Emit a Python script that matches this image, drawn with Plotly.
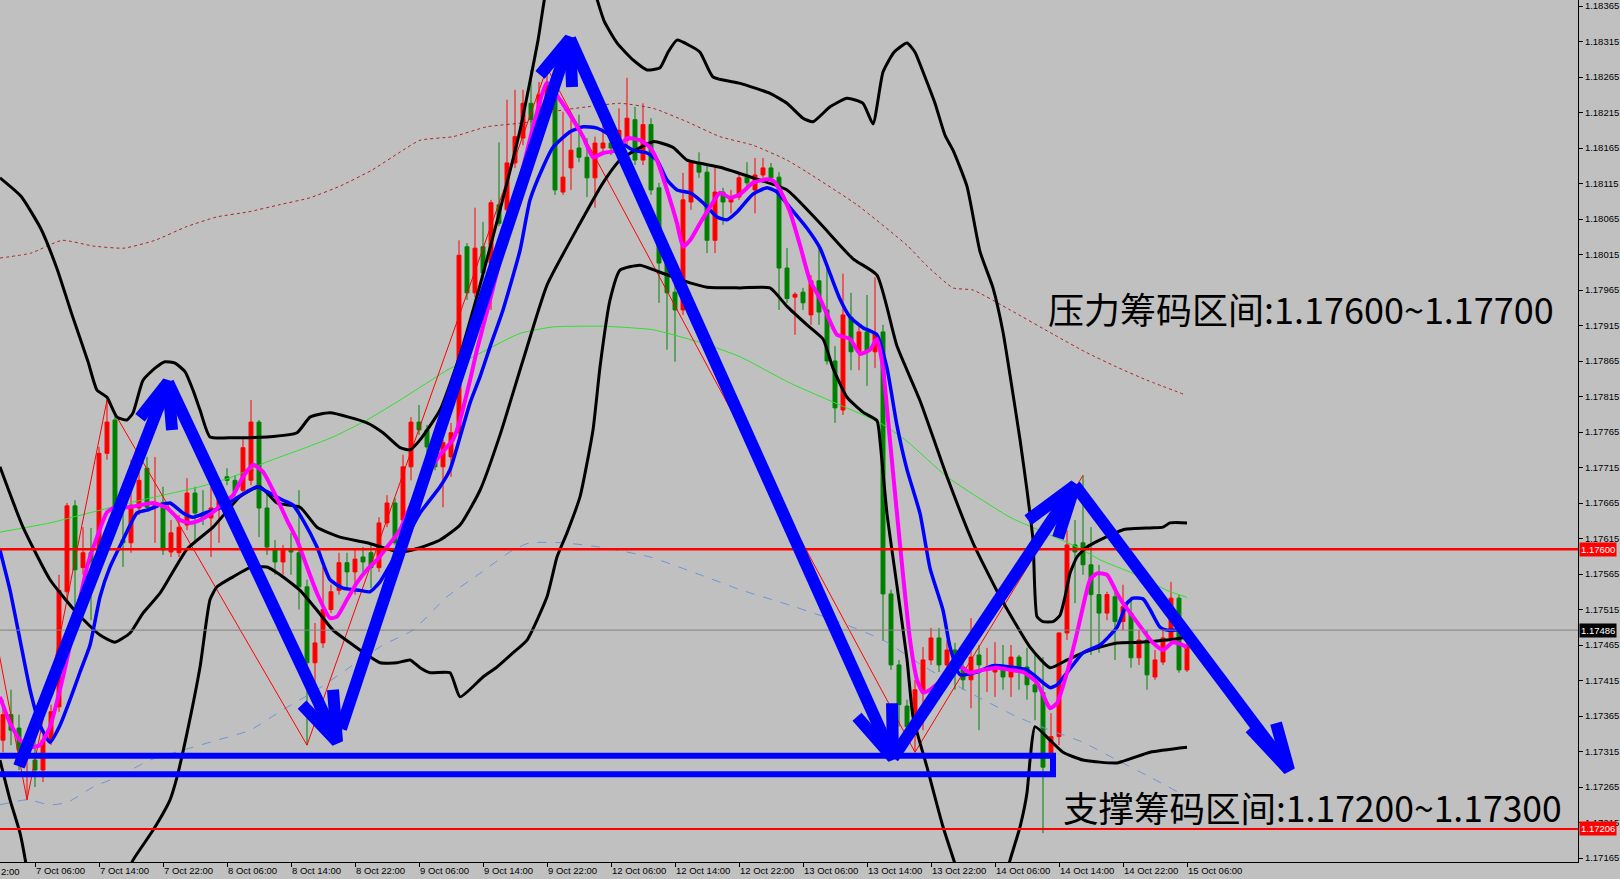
import plotly.graph_objects as go

# ---------------- DATA (EURUSD H1, bar index 0 = 7 Oct 02:00) ----------------
opens = [1.17331,1.17367,1.17348,1.17307,1.17303,1.17289,1.17331,1.17378,1.17540,1.17661,
         1.17574,1.17595,1.17589,1.17735,1.17782,1.17613,1.17609,1.17658,1.17714,1.17659,
         1.17666,1.17596,1.17595,1.17634,1.17679,1.17651,1.17644,1.17658,1.17702,1.17697,
         1.17683,1.17697,1.17779,1.17658,1.17599,1.17582,1.17601,1.17595,1.17547,1.17440,
         1.17468,1.17515,1.17542,1.17581,1.17568,1.17589,1.17595,1.17574,1.17637,1.17665,
         1.17641,1.17716,1.17779,1.17768,1.17744,1.17716,1.17730,1.17764,1.18026,1.17961,
         1.18026,1.18003,1.18085,1.18078,1.18144,1.18179,1.18228,1.18207,1.18233,1.18254,
         1.18103,1.18137,1.18165,1.18152,1.18123,1.18165,1.18172,1.18165,1.18176,1.18205,
         1.18148,1.18198,1.18109,1.18003,1.17962,1.17937,1.18089,1.18144,1.18131,1.18035,
         1.18103,1.18089,1.18096,1.18124,1.18106,1.18127,1.18137,1.18124,1.17996,1.17955,
         1.17962,1.17930,1.17978,1.17937,1.17865,1.17796,1.17927,1.17878,1.17906,1.17878,
         1.17906,1.17537,1.17437,1.17379,1.17350,1.17398,1.17444,1.17475,1.17437,1.17458,
         1.17434,1.17416,1.17451,1.17430,1.17427,1.17434,1.17420,1.17448,1.17434,1.17409,
         1.17398,1.17313,1.17336,1.17482,1.17606,1.17609,1.17578,1.17536,1.17510,1.17533,
         1.17498,1.17510,1.17447,1.17472,1.17420,1.17441,1.17472,1.17531,1.17430]
highs = [1.17388,1.17402,1.17367,1.17338,1.17331,1.17338,1.17381,1.17564,1.17665,1.17669,
         1.17631,1.17630,1.17744,1.17810,1.17789,1.17693,1.17726,1.17711,1.17730,1.17730,
         1.17688,1.17641,1.17648,1.17700,1.17688,1.17683,1.17688,1.17686,1.17714,1.17704,
         1.17758,1.17810,1.17782,1.17683,1.17613,1.17606,1.17623,1.17683,1.17557,1.17496,
         1.17575,1.17550,1.17595,1.17595,1.17601,1.17603,1.17606,1.17645,1.17676,1.17672,
         1.17733,1.17786,1.17803,1.17775,1.17754,1.17754,1.17778,1.18035,1.18031,1.18081,
         1.18061,1.18092,1.18173,1.18233,1.18247,1.18247,1.18275,1.18258,1.18278,1.18264,
         1.18216,1.18205,1.18212,1.18179,1.18181,1.18209,1.18183,1.18221,1.18264,1.18223,
         1.18228,1.18207,1.18116,1.18014,1.17972,1.18130,1.18148,1.18159,1.18141,1.18138,
         1.18109,1.18106,1.18131,1.18145,1.18151,1.18151,1.18144,1.18131,1.18024,1.17962,
         1.17968,1.17986,1.18024,1.18003,1.17886,1.17988,1.17961,1.17916,1.17958,1.17983,
         1.17916,1.17543,1.17444,1.17388,1.17416,1.17462,1.17489,1.17489,1.17472,1.17468,
         1.17444,1.17503,1.17465,1.17461,1.17469,1.17465,1.17465,1.17451,1.17461,1.17451,
         1.17448,1.17369,1.17483,1.17627,1.17641,1.17704,1.17631,1.17578,1.17540,1.17547,
         1.17550,1.17533,1.17486,1.17486,1.17458,1.17486,1.17554,1.17536,1.17486]
lows = [1.17314,1.17324,1.17289,1.17247,1.17265,1.17272,1.17324,1.17371,1.17529,1.17500,
        1.17564,1.17500,1.17582,1.17726,1.17641,1.17575,1.17595,1.17648,1.17655,1.17609,
        1.17592,1.17589,1.17589,1.17627,1.17609,1.17634,1.17589,1.17609,1.17690,1.17674,
        1.17676,1.17690,1.17617,1.17592,1.17564,1.17564,1.17564,1.17515,1.17324,1.17359,
        1.17461,1.17510,1.17536,1.17542,1.17536,1.17568,1.17545,1.17568,1.17631,1.17606,
        1.17631,1.17697,1.17761,1.17726,1.17711,1.17659,1.17702,1.17758,1.17951,1.17955,
        1.17979,1.17937,1.18055,1.18071,1.18137,1.18169,1.18172,1.18198,1.18219,1.18099,
        1.18099,1.18106,1.18145,1.18096,1.18081,1.18155,1.18155,1.18155,1.18169,1.18141,
        1.18141,1.18099,1.17947,1.17881,1.17864,1.17930,1.18078,1.18123,1.18017,1.18017,
        1.18057,1.18073,1.18092,1.18109,1.18073,1.18123,1.18120,1.17937,1.17947,1.17902,
        1.17937,1.17916,1.17916,1.17860,1.17778,1.17789,1.17852,1.17852,1.17830,1.17855,
        1.17471,1.17430,1.17350,1.17331,1.17314,1.17345,1.17437,1.17427,1.17416,1.17402,
        1.17402,1.17376,1.17345,1.17399,1.17392,1.17402,1.17392,1.17402,1.17388,1.17359,
        1.17200,1.17289,1.17324,1.17472,1.17524,1.17564,1.17451,1.17454,1.17500,1.17444,
        1.17486,1.17433,1.17437,1.17402,1.17416,1.17437,1.17465,1.17426,1.17427]
closes = [1.17367,1.17345,1.17317,1.17324,1.17289,1.17331,1.17371,1.17542,1.17661,1.17571,
          1.17595,1.17582,1.17735,1.17779,1.17645,1.17609,1.17662,1.17697,1.17659,1.17666,
          1.17599,1.17623,1.17631,1.17679,1.17651,1.17644,1.17658,1.17679,1.17697,1.17681,
          1.17743,1.17779,1.17658,1.17603,1.17582,1.17599,1.17596,1.17547,1.17440,1.17468,
          1.17515,1.17540,1.17581,1.17568,1.17586,1.17582,1.17574,1.17637,1.17665,1.17609,
          1.17716,1.17779,1.17768,1.17744,1.17716,1.17750,1.17764,1.18014,1.17961,1.18024,
          1.17989,1.18088,1.18059,1.18144,1.18181,1.18228,1.18205,1.18240,1.18254,1.18106,
          1.18124,1.18162,1.18152,1.18123,1.18172,1.18172,1.18165,1.18190,1.18207,1.18148,
          1.18198,1.18106,1.18003,1.17961,1.17937,1.18092,1.18145,1.18131,1.18035,1.18103,
          1.18089,1.18096,1.18123,1.18116,1.18127,1.18137,1.18123,1.17996,1.17953,1.17959,
          1.17947,1.17978,1.17934,1.17865,1.17799,1.17930,1.17878,1.17906,1.17878,1.17903,
          1.17537,1.17437,1.17381,1.17350,1.17402,1.17444,1.17475,1.17437,1.17458,1.17434,
          1.17416,1.17448,1.17437,1.17434,1.17436,1.17420,1.17448,1.17434,1.17409,1.17399,
          1.17293,1.17336,1.17482,1.17606,1.17596,1.17578,1.17536,1.17510,1.17536,1.17498,
          1.17519,1.17447,1.17472,1.17423,1.17444,1.17475,1.17531,1.17430,1.17465]
bar_index = list(range(len(opens)))

x_tick_labels = ["7 Oct 06:00", "7 Oct 14:00", "7 Oct 22:00", "8 Oct 06:00", "8 Oct 14:00",
                 "8 Oct 22:00", "9 Oct 06:00", "9 Oct 14:00", "9 Oct 22:00", "12 Oct 06:00",
                 "12 Oct 14:00", "12 Oct 22:00", "13 Oct 06:00", "13 Oct 14:00", "13 Oct 22:00",
                 "14 Oct 06:00", "14 Oct 14:00", "14 Oct 22:00", "15 Oct 06:00"]
previous_tick_fragment = "2:00"   # visible tail of "6 Oct 22:00" at the left edge
first_tick_bar = 4
bars_per_tick = 8
y_tick_labels = ["1.17165", "1.17215", "1.17265", "1.17315", "1.17365", "1.17415", "1.17465",
                 "1.17515", "1.17565", "1.17615", "1.17665", "1.17715", "1.17765", "1.17815",
                 "1.17865", "1.17915", "1.17965", "1.18015", "1.18065", "1.18115", "1.18165",
                 "1.18215", "1.18265", "1.18315", "1.18365"]
price_low, price_high = 1.171594, 1.183735
bar_low, bar_high = -0.375, 196.875

# Bollinger bands (bar, price)
bb_upper = [(-0.38,1.18123),(2.25,1.18097),(4.75,1.18051),(6.75,1.17995),(8.63,1.17930),(10.63,1.17864),
            (11.75,1.17824),(13.0,1.17814),(14.25,1.17786),(15.5,1.17782),(16.25,1.17792),(17.5,1.17838),
            (19.0,1.17855),(20.25,1.17864),(21.5,1.17862),(22.75,1.17850),(23.75,1.17824),(24.63,1.17796),
            (25.88,1.17758),(28.75,1.17757),(33.0,1.17758),(36.75,1.17764),(38.38,1.17786),(40.88,1.17792),
            (45.5,1.17778),(47.5,1.17764),(49.63,1.17743),(50.88,1.17740),(52.13,1.17754),(54.63,1.17796),
            (57.13,1.17874),(59.63,1.17972),(62.13,1.18078),(64.63,1.18190),(66.88,1.18317),(68.13,1.18402),
            (70.25,1.18458),(72.38,1.18430),(73.88,1.18388),(75.13,1.18344),(76.75,1.18313),(78.75,1.18289),
            (80.5,1.18275),(82.13,1.18278),(83.13,1.18300),(84.25,1.18317),(85.88,1.18309),(87.13,1.18300),
            (88.75,1.18265),(92.13,1.18256),(95.88,1.18242),(98.0,1.18228),(100.0,1.18207),(101.25,1.18202),
            (103.38,1.18223),(105.5,1.18235),(107.5,1.18228),(108.75,1.18199),(110.0,1.18272),(111.38,1.18300),
            (113.0,1.18313),(114.0,1.18300),(115.25,1.18265),(116.5,1.18228),(117.75,1.18183),(118.75,1.18162),
            (120.5,1.18111),(122.13,1.18019),(123.75,1.17968),(125.0,1.17906),(125.88,1.17845),(127.13,1.17754),
            (128.0,1.17683),(128.75,1.17613),(129.25,1.17505),(130.0,1.17498),(131.25,1.17498),(132.13,1.17507),
            (132.75,1.17533),(133.38,1.17566),(134.25,1.17589),(135.5,1.17603),(137.13,1.17613),(139.25,1.17624),
            (140.25,1.17628),(143.38,1.17630),(145.0,1.17631),(145.88,1.17637),(148.0,1.17637)]
bb_middle = [(-0.38,1.17716),(2.5,1.17631),(5.88,1.17557),(9.25,1.17510),(12.13,1.17479),(14.0,1.17469),
             (15.88,1.17482),(17.5,1.17510),(19.63,1.17538),(23.0,1.17600),(26.25,1.17631),(29.63,1.17674),
             (32.13,1.17688),(34.25,1.17665),(37.13,1.17659),(39.25,1.17631),(42.13,1.17617),(45.5,1.17609),
             (49.63,1.17596),(52.13,1.17602),(54.63,1.17613),(57.13,1.17634),(59.63,1.17683),(62.13,1.17761),
             (65.0,1.17866),(68.0,1.17972),(72.13,1.18059),(75.0,1.18116),(77.13,1.18148),(81.25,1.18174),
             (83.75,1.18166),(85.5,1.18148),(89.63,1.18138),(93.75,1.18123),(98.0,1.18106),(102.13,1.18059),
             (106.25,1.18009),(109.25,1.17986),(111.75,1.17886),(114.63,1.17809),(118.0,1.17702),(121.25,1.17609),
             (124.63,1.17533),(128.38,1.17462),(130.88,1.17433),(133.0,1.17444),(135.0,1.17454),(137.13,1.17462),
             (139.25,1.17468),(142.13,1.17469),(145.5,1.17472),(148.0,1.17476)]
bb_lower = [(-0.38,1.17303),(0.88,1.17247),(2.13,1.17200),(3.0,1.17148),(4.63,1.17022),(9.63,1.16951),
            (14.0,1.17022),(15.25,1.17134),(16.25,1.17162),(18.75,1.17204),(20.88,1.17247),(21.75,1.17279),
            (23.0,1.17341),(24.63,1.17434),(25.88,1.17529),(26.75,1.17547),(28.75,1.17561),(30.88,1.17574),
            (33.0,1.17575),(34.63,1.17564),(37.13,1.17542),(39.25,1.17514),(41.25,1.17486),(43.75,1.17465),
            (45.5,1.17451),(47.13,1.17440),(49.25,1.17440),(50.88,1.17444),(52.13,1.17433),(53.38,1.17426),
            (55.88,1.17426),(57.13,1.17392),(60.0,1.17420),(61.75,1.17434),(63.75,1.17454),(65.5,1.17472),
            (68.0,1.17533),(69.25,1.17589),(70.5,1.17623),(72.13,1.17674),(73.75,1.17768),(74.63,1.17857),
            (75.88,1.17951),(77.13,1.17993),(79.63,1.18000),(82.13,1.17990),(85.88,1.17975),(88.0,1.17969),
            (92.13,1.17968),(95.88,1.17968),(98.0,1.17942),(100.5,1.17916),(102.5,1.17896),(103.75,1.17855),
            (105.5,1.17814),(107.5,1.17793),(109.25,1.17781),(109.63,1.17752),(110.5,1.17650),(111.75,1.17548),
            (113.0,1.17445),(113.75,1.17364),(115.5,1.17293),(117.5,1.17209),(119.25,1.17148),(122.13,1.17035),
            (125.25,1.17134),(125.88,1.17162),(127.13,1.17209),(128.0,1.17257),(128.38,1.17303),(129.0,1.17350),
            (130.88,1.17331),(132.5,1.17314),(135.0,1.17303),(139.25,1.17299),(143.38,1.17314),(148.0,1.17321)]
# fast MA (magenta) and slow MA (blue)
ma_fast = [(-0.38,1.17392),(0.88,1.17355),(2.13,1.17331),(3.38,1.17321),(4.63,1.17324),(5.88,1.17350),
           (7.5,1.17420),(9.25,1.17510),(10.5,1.17575),(11.75,1.17617),(13.0,1.17652),(14.0,1.17659),
           (15.5,1.17659),(17.13,1.17662),(18.75,1.17665),(20.5,1.17658),(22.13,1.17641),(23.38,1.17637),
           (24.63,1.17641),(26.25,1.17652),(27.5,1.17665),(28.75,1.17676),(30.0,1.17702),(31.25,1.17719),
           (32.5,1.17709),(33.75,1.17683),(35.5,1.17641),(36.75,1.17613),(38.0,1.17575),(39.25,1.17538),
           (40.88,1.17503),(41.75,1.17505),(43.0,1.17529),(44.25,1.17553),(45.5,1.17571),(46.75,1.17585),
           (48.0,1.17603),(49.63,1.17627),(51.25,1.17669),(53.0,1.17704),(54.63,1.17733),(56.25,1.17754),
           (57.13,1.17782),(58.38,1.17838),(59.25,1.17881),(60.88,1.17951),(62.75,1.18035),(64.63,1.18120),
           (66.5,1.18205),(68.0,1.18257),(69.63,1.18233),(71.25,1.18205),(72.5,1.18181),(73.75,1.18152),
           (75.0,1.18158),(76.75,1.18162),(78.0,1.18179),(79.63,1.18176),(80.88,1.18166),(81.75,1.18148),
           (83.0,1.18106),(84.25,1.18059),(85.0,1.18026),(85.88,1.18035),(87.13,1.18059),(88.38,1.18082),
           (89.63,1.18102),(90.88,1.18095),(92.13,1.18100),(93.75,1.18116),(95.5,1.18121),(96.25,1.18119),
           (97.13,1.18106),(98.38,1.18075),(99.63,1.18028),(100.88,1.17978),(102.13,1.17953),(103.38,1.17921),
           (104.25,1.17902),(105.88,1.17896),(107.13,1.17875),(108.38,1.17881),(109.25,1.17896),(110.0,1.17855),
           (110.88,1.17752),(111.75,1.17650),(112.5,1.17564),(113.38,1.17472),(114.25,1.17416),(115.0,1.17398),
           (115.88,1.17402),(117.75,1.17419),(119.63,1.17434),(120.88,1.17426),(122.5,1.17430),(124.25,1.17433),
           (125.88,1.17430),(127.5,1.17427),(129.25,1.17412),(130.5,1.17383),(130.88,1.17376),(131.75,1.17383),
           (133.0,1.17426),(134.25,1.17482),(135.0,1.17519),(135.88,1.17557),(136.75,1.17566),(138.0,1.17564),
           (139.25,1.17538),(140.0,1.17524),(141.25,1.17505),(142.5,1.17486),(143.75,1.17468),(145.0,1.17458),
           (146.25,1.17469),(147.5,1.17465),(148.0,1.17462)]
ma_slow = [(-0.38,1.17599),(0.88,1.17542),(2.13,1.17472),(3.38,1.17402),(4.63,1.17352),(5.88,1.17328),
           (7.13,1.17352),(8.38,1.17388),(9.63,1.17427),(10.88,1.17465),(12.13,1.17533),(13.38,1.17575),
           (15.0,1.17613),(16.75,1.17651),(18.0,1.17655),(19.63,1.17662),(20.88,1.17665),(22.5,1.17651),
           (23.75,1.17645),(25.5,1.17652),(27.13,1.17658),(28.75,1.17669),(30.5,1.17681),(31.75,1.17688),
           (33.0,1.17681),(35.0,1.17669),(36.25,1.17662),(37.5,1.17641),(39.25,1.17603),(40.88,1.17557),
           (42.5,1.17545),(44.63,1.17542),(45.88,1.17540),(47.13,1.17554),(48.75,1.17585),(50.25,1.17613),
           (52.13,1.17651),(54.63,1.17688),(55.88,1.17712),(57.13,1.17758),(58.38,1.17806),(59.63,1.17843),
           (60.88,1.17885),(62.5,1.17937),(64.63,1.18021),(65.88,1.18092),(67.5,1.18138),(68.75,1.18166),
           (70.88,1.18188),(72.5,1.18195),(74.25,1.18193),(75.5,1.18186),(77.13,1.18174),(78.75,1.18162),
           (80.5,1.18158),(81.75,1.18148),(83.0,1.18120),(84.25,1.18106),(85.88,1.18102),(87.5,1.18088),
           (89.25,1.18068),(90.5,1.18064),(91.75,1.18075),(93.75,1.18100),(95.5,1.18109),(96.75,1.18103),
           (98.38,1.18081),(100.5,1.18052),(102.13,1.18024),(103.38,1.17988),(104.63,1.17952),(105.88,1.17927),
           (107.5,1.17912),(109.25,1.17902),(110.5,1.17855),(111.75,1.17774),(113.0,1.17712),(114.63,1.17650),
           (115.88,1.17573),(117.5,1.17514),(118.38,1.17462),(119.63,1.17423),(121.75,1.17427),(123.75,1.17436),
           (125.88,1.17434),(128.0,1.17430),(129.25,1.17419),(130.88,1.17405),(131.75,1.17409),(133.0,1.17426),
           (135.0,1.17454),(137.13,1.17465),(139.25,1.17490),(140.5,1.17524),(141.25,1.17531),(142.5,1.17530),
           (143.38,1.17515),(144.63,1.17490),(145.5,1.17486),(146.75,1.17486),(148.0,1.17483)]
ma_long = [(-0.38,1.17624),(5.88,1.17637),(12.13,1.17655),(18.38,1.17672),(24.63,1.17688),(28.75,1.17702),
           (33.0,1.17723),(37.13,1.17740),(41.25,1.17758),(45.5,1.17782),(49.63,1.17810),(52.13,1.17828),
           (55.5,1.17852),(59.63,1.17876),(64.63,1.17904),(68.75,1.17913),(75.0,1.17914),(81.25,1.17909),
           (87.5,1.17890),(92.13,1.17871),(98.38,1.17834),(104.63,1.17803),(109.63,1.17778),(113.0,1.17752),
           (118.0,1.17702),(125.88,1.17645),(130.88,1.17620),(134.63,1.17601),(137.13,1.17585),(141.25,1.17566),
           (145.5,1.17542),(148.0,1.17532)]
env_upper = [(-0.38,1.18010),(3.5,1.18017),(7.38,1.18035),(11.25,1.18027),(15.13,1.18024),(19.0,1.18035),
             (22.88,1.18054),(26.75,1.18068),(30.63,1.18075),(34.5,1.18085),(38.38,1.18095),(42.25,1.18112),
             (46.13,1.18134),(50.0,1.18162),(52.13,1.18176),(56.25,1.18181),(60.5,1.18195),(65.88,1.18202),
             (68.75,1.18216),(73.0,1.18223),(77.13,1.18228),(81.25,1.18221),(85.5,1.18202),(89.63,1.18181),
             (93.75,1.18169),(98.0,1.18148),(100.5,1.18131),(106.75,1.18085),(113.0,1.18028),(115.5,1.17999),
             (118.75,1.17968),(121.25,1.17965),(125.88,1.17937),(131.38,1.17902),(135.25,1.17878),
             (139.13,1.17857),(143.0,1.17838),(147.88,1.17817)]
env_lower = [(-0.38,1.17240),(3.0,1.17247),(5.88,1.17240),(8.0,1.17243),(11.25,1.17265),(14.25,1.17279),
             (18.38,1.17303),(22.5,1.17317),(26.75,1.17331),(30.88,1.17345),(35.0,1.17374),(39.25,1.17402),
             (43.38,1.17434),(47.5,1.17465),(51.25,1.17486),(55.5,1.17533),(59.63,1.17566),(63.75,1.17599),
             (65.88,1.17609),(70.0,1.17609),(74.63,1.17603),(80.88,1.17589),(87.13,1.17564),(92.13,1.17543),
             (98.38,1.17521),(104.63,1.17497),(110.0,1.17472),(114.25,1.17441),(118.38,1.17413),(122.5,1.17388),
             (126.75,1.17364),(130.88,1.17345),(135.0,1.17328),(139.25,1.17303),(143.38,1.17279),(148.0,1.17251)]
zigzag = [(-1,1.17483),(3,1.17247),(13,1.17810),(38,1.17324),(68,1.18278),(114,1.17314),(135,1.17704)]

resistance_level = 1.17600
support_level = 1.17206
bid_price = 1.17486

# hand-drawn objects: arrow = (start, tip, barb1, barb2) in (bar, price)
arrows = [
    ((2.0,1.17294),(20.63,1.17835),(17.13,1.17785),(21.13,1.17768)),
    ((20.63,1.17835),(41.75,1.17329),(37.38,1.17381),(41.25,1.17402)),
    ((42.25,1.17347),(70.88,1.18319),(67.13,1.18268),(71.13,1.18251)),
    ((70.88,1.18319),(111.25,1.17306),(106.75,1.17364),(111.13,1.17383)),
    ((111.25,1.17306),(134.0,1.17690),(128.13,1.17641),(131.88,1.17616)),
    ((134.0,1.17690),(160.75,1.17289),(155.88,1.17348),(159.13,1.17355)),
]
support_box = ((-1.0, 1.17309), (131.25, 1.17283))

note_resistance = "压力筹码区间:1.17600~1.17700"
note_support = "支撑筹码区间:1.17200~1.17300"
note_resistance_pos = (130.4, 1.17940)
note_support_pos = (132.2, 1.17237)

# ---------------- FIGURE ----------------
BG = "#C0C0C0"
TICK_FONT = dict(family="Liberation Sans", size=9.5, color="#000000")
fig = go.Figure()

def add_line(points, color, width, dash="solid", shape="spline"):
    fig.add_trace(go.Scatter(
        x=[p[0] for p in points], y=[p[1] for p in points], mode="lines",
        line=dict(color=color, width=width, dash=dash, shape=shape,
                  smoothing=0.5 if shape == "spline" else None),
        hoverinfo="skip", showlegend=False, cliponaxis=True))

add_line(env_upper, "#B22222", 1, dash="dot")
add_line(env_lower, "#6F93D8", 1, dash="dash")
add_line(ma_long, "#2EE02E", 1)
add_line(zigzag, "#FF0000", 1, shape="linear")

fig.add_trace(go.Candlestick(
    x=bar_index, open=opens, high=highs, low=lows, close=closes,
    increasing=dict(line=dict(color="#FF0000", width=1), fillcolor="#FF0000"),
    decreasing=dict(line=dict(color="#008000", width=1), fillcolor="#008000"),
    whiskerwidth=0, hoverinfo="skip", showlegend=False))

for band in (bb_upper, bb_middle, bb_lower):
    add_line(band, "#000000", 3)
add_line(ma_slow, "#0000FF", 3.5)
add_line(ma_fast, "#FF00FF", 4)

for lvl, col, w in ((resistance_level, "#FF0000", 2.5), (support_level, "#FF0000", 2),
                    (bid_price, "#808080", 1)):
    fig.add_trace(go.Scatter(x=[bar_low - 1, bar_high + 1], y=[lvl, lvl], mode="lines",
                             line=dict(color=col, width=w), hoverinfo="skip", showlegend=False))

(bx0, by0), (bx1, by1) = support_box
fig.add_trace(go.Scatter(x=[bx0, bx1, bx1, bx0, bx0], y=[by0, by0, by1, by1, by0], mode="lines",
                         line=dict(color="#0000FF", width=6), hoverinfo="skip", showlegend=False))

for start, tip, b1, b2 in arrows:
    fig.add_trace(go.Scatter(
        x=[start[0], tip[0], None, b1[0], tip[0], b2[0]],
        y=[start[1], tip[1], None, b1[1], tip[1], b2[1]],
        mode="lines", line=dict(color="#0000FF", width=12),
        hoverinfo="skip", showlegend=False))

annotations = [
    dict(x=note_resistance_pos[0], y=note_resistance_pos[1], xref="x", yref="y", text=note_resistance,
         showarrow=False, xanchor="left", yanchor="middle",
         font=dict(family="Noto Sans CJK SC", size=36, color="#000000")),
    dict(x=note_support_pos[0], y=note_support_pos[1], xref="x", yref="y", text=note_support,
         showarrow=False, xanchor="left", yanchor="middle",
         font=dict(family="Noto Sans CJK SC", size=35.5, color="#000000")),
    dict(x=0, y=0, xref="paper", yref="paper", text=previous_tick_fragment,
         showarrow=False, xanchor="left", yanchor="top", yshift=-3, borderpad=0, font=TICK_FONT),
]
for lvl, bg in ((resistance_level, "#FF0000"), (support_level, "#FF0000"), (bid_price, "#000000")):
    annotations.append(dict(x=1, y=lvl, xref="paper", yref="y", text=f"{lvl:.5f}", showarrow=False,
                            xanchor="left", yanchor="middle", xshift=1, bgcolor=bg, borderpad=1,
                            font=dict(family="Liberation Sans", size=9.5, color="#FFFFFF")))

fig.update_layout(
    width=1620, height=879, margin=dict(l=0, r=42, t=0, b=17),
    paper_bgcolor=BG, plot_bgcolor=BG, showlegend=False, hovermode=False, dragmode=False,
    annotations=annotations,
    xaxis=dict(range=[bar_low, bar_high], type="linear", rangeslider=dict(visible=False),
               tickvals=[first_tick_bar + bars_per_tick * i for i in range(len(x_tick_labels))],
               ticktext=x_tick_labels, ticks="outside", ticklen=4, tickcolor="#000000",
               ticklabelposition="outside right", tickfont=TICK_FONT,
               showgrid=False, zeroline=False, showline=True, linecolor="#000000", linewidth=1),
    yaxis=dict(range=[price_low, price_high], side="right",
               tickvals=[float(s) for s in y_tick_labels], ticktext=y_tick_labels,
               ticks="outside", ticklen=4, tickcolor="#000000", tickfont=TICK_FONT,
               showgrid=False, zeroline=False, showline=True, linecolor="#000000", linewidth=1),
)

fig.write_html("out.html", config={"displayModeBar": False, "staticPlot": True},
               post_script="document.body.style.margin='0';document.body.style.overflow='hidden';")
